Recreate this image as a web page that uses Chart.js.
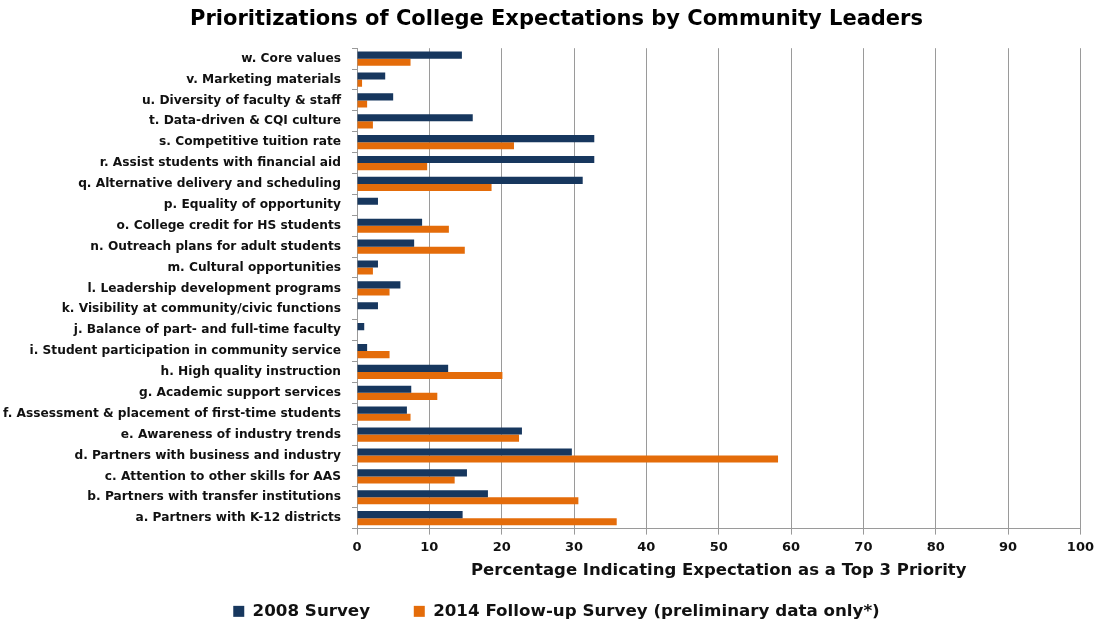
<!DOCTYPE html>
<html>
<head>
<meta charset="utf-8">
<script src="https://cdn.jsdelivr.net/npm/chart.js@4"></script>
<style>
  html, body { margin: 0; padding: 0; background: #fff; }
  #wrap { width: 1099px; height: 624px; }
</style>
</head>
<body>
<div id="wrap"><canvas id="expectChart" width="1099" height="624"></canvas></div>
<script>
// categories listed bottom to top (a first), the y axis is reversed so w sits on top
const categories = [
    'a. Partners with K-12 districts',
    'b. Partners with transfer institutions',
    'c. Attention to other skills for AAS',
    'd. Partners with business and industry',
    'e. Awareness of industry trends',
    'f. Assessment & placement of first-time students',
    'g. Academic support services',
    'h. High quality instruction',
    'i. Student participation in community service',
    'j. Balance of part- and full-time faculty',
    'k. Visibility at community/civic functions',
    'l. Leadership development programs',
    'm. Cultural opportunities',
    'n. Outreach plans for adult students',
    'o. College credit for HS students',
    'p. Equality of opportunity',
    'q. Alternative delivery and scheduling',
    'r. Assist students with financial aid',
    's. Competitive tuition rate',
    't. Data-driven & CQI culture',
    'u. Diversity of faculty & staff',
    'v. Marketing materials',
    'w. Core values'
];
const survey2008 = [14.6, 18.1, 15.2, 29.7, 22.8, 6.9, 7.5, 12.6, 1.4, 1.0, 2.9, 6.0, 2.9, 7.9, 9.0, 2.9, 31.2, 32.8, 32.8, 16.0, 5.0, 3.9, 14.5];
const survey2014 = [35.9, 30.6, 13.5, 58.2, 22.4, 7.4, 11.1, 20.1, 4.5, 0, 0, 4.5, 2.2, 14.9, 12.7, 0, 18.6, 9.7, 21.7, 2.2, 1.4, 0.7, 7.4];
const xTicks = [0, 10, 20, 30, 40, 50, 60, 70, 80, 90, 100];

const seriesNames = ['2008 Survey', '2014 Follow-up Survey (preliminary data only*)'];
const navy = '#17375E';
const orange = '#E46C0A';
const FONT = "'DejaVu Sans', Verdana, sans-serif";
const PAD_LEFT = 30;
const AXIS_LEFT = 357;

Chart.defaults.font.family = FONT;
Chart.defaults.color = '#111';

// long category names run past the layout padding; widen the label clip box to the canvas edge
const labelRoom = {
    id: 'labelRoom',
    afterLayout: function(chart) {
        chart.scales.y.left = 0;
    }
};

const ctx = document.getElementById('expectChart').getContext('2d');
const expectChart = new Chart(ctx, {
    type: 'bar',
    data: {
        labels: categories,
        datasets: [{
            label: seriesNames[0],
            data: survey2008,
            backgroundColor: navy,
            borderWidth: 0,
            categoryPercentage: 0.68,
            barPercentage: 1.0
        }, {
            label: seriesNames[1],
            data: survey2014,
            backgroundColor: orange,
            borderWidth: 0,
            categoryPercentage: 0.68,
            barPercentage: 1.0
        }]
    },
    plugins: [labelRoom],
    options: {
        indexAxis: 'y',
        responsive: false,
        animation: false,
        layout: {
            padding: { left: PAD_LEFT, right: 16, top: 0, bottom: 2 }
        },
        scales: {
            x: {
                min: 0,
                max: 100,
                afterBuildTicks: function(scale) {
                    scale.ticks = xTicks.map(v => ({ value: v }));
                },
                grid: {
                    color: '#9a9a9a',
                    lineWidth: 1,
                    drawTicks: true,
                    tickLength: 6
                },
                border: { color: '#9a9a9a', width: 1 },
                ticks: {
                    color: '#111',
                    padding: 5,
                    font: { size: 13, weight: 'bold' }
                },
                title: {
                    display: true,
                    text: 'Percentage Indicating Expectation as a Top 3 Priority',
                    color: '#111',
                    font: { size: 16.5, weight: 'bold' },
                    padding: { top: 1, bottom: 20 }
                }
            },
            y: {
                reverse: true,
                afterFit: function(scale) {
                    scale.width = AXIS_LEFT - PAD_LEFT;
                },
                grid: {
                    drawOnChartArea: false,
                    drawTicks: true,
                    tickLength: 5,
                    color: '#9a9a9a'
                },
                border: { color: '#9a9a9a', width: 1 },
                ticks: {
                    color: '#111',
                    padding: 11,
                    autoSkip: false,
                    font: { size: 12.2, weight: 'bold' }
                }
            }
        },
        plugins: {
            title: {
                display: true,
                text: 'Prioritizations of College Expectations by Community Leaders',
                color: '#000',
                font: { size: 21, weight: 'bold' },
                padding: { top: 7, bottom: 16 }
            },
            legend: {
                position: 'bottom',
                maxHeight: 21,
                labels: {
                    color: '#111',
                    boxWidth: 11,
                    boxHeight: 11,
                    padding: 2,
                    font: { size: 16.7, weight: 'bold' },
                    // wider gap after the first entry
                    generateLabels: function(chart) {
                        const items = Chart.defaults.plugins.legend.labels.generateLabels(chart);
                        items[0].text = items[0].text + '\u2003\u2003\u2002';
                        return items;
                    }
                }
            },
            tooltip: { enabled: false }
        }
    }
});
</script>
</body>
</html>
